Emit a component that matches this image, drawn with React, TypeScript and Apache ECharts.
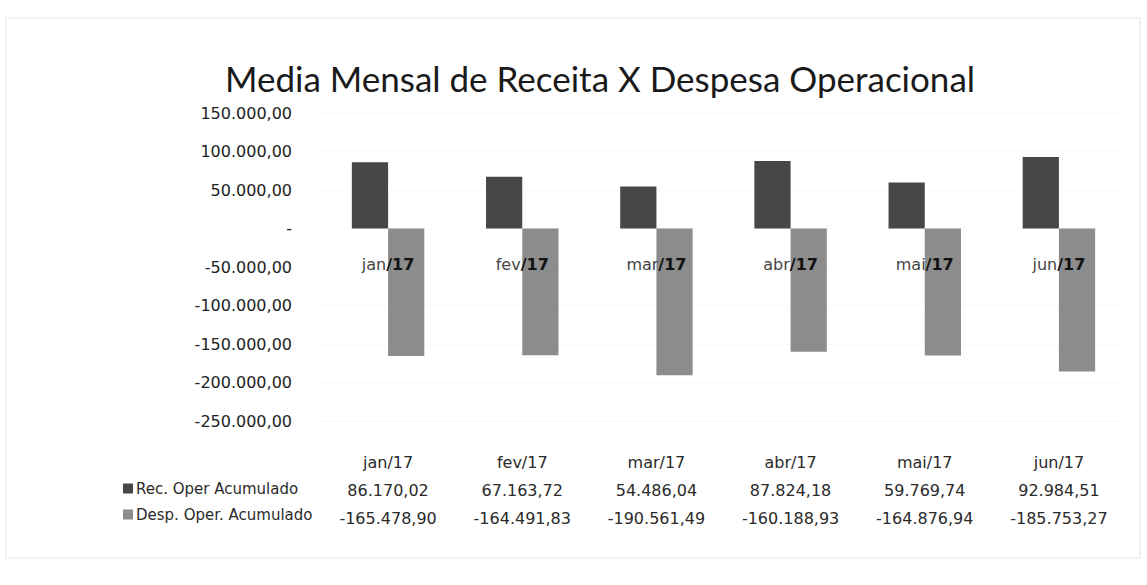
import React, { useEffect, useRef } from "react";
import * as echarts from "echarts";

const months = ["jan/17", "fev/17", "mar/17", "abr/17", "mai/17", "jun/17"];
const recValues = [86170.02, 67163.72, 54486.04, 87824.18, 59769.74, 92984.51];
const despValues = [-165478.9, -164491.83, -190561.49, -160188.93, -164876.94, -185753.27];
const seriesNames = ["Rec. Oper Acumulado", "Desp. Oper. Acumulado"];
const titleText = "Media Mensal de Receita X Despesa Operacional";

function fmt(v: number): string {
  const neg = v < 0;
  const abs = Math.abs(v);
  const fixed = abs.toFixed(2);
  const [intPart, dec] = fixed.split(".");
  const withDots = intPart.replace(/\B(?=(\d{3})+(?!\d))/g, ".");
  return (neg ? "-" : "") + withDots + "," + dec;
}

const FONT = "DejaVu Sans";

export default function App() {
  const ref = useRef<HTMLDivElement>(null);
  useEffect(() => {
    if (!ref.current) return;
    const chart = echarts.init(ref.current, undefined, { renderer: "svg" });
    const tableAxis = (offset: number, formatter: (v: string, i: number) => string) => ({
      type: "category",
      data: months,
      position: "bottom",
      offset,
      axisLine: { show: false, onZero: false },
      axisTick: { show: false },
      splitLine: { show: false },
      axisLabel: {
        margin: 0,
        interval: 0,
        verticalAlign: "top",
        fontFamily: FONT,
        fontSize: 16,
        color: "#2a2a2a",
        formatter,
      },
    });
    chart.setOption({
      animation: false,
      backgroundColor: "#ffffff",
      title: {
        text: titleText,
        left: 595,
        textAlign: "center",
        top: 55,
        textStyle: { fontFamily: "Lato", fontWeight: "normal", fontSize: 35, color: "#1a1a1a" },
      },
      graphic: [
        {
          type: "rect",
          shape: { x: 6, y: 18, width: 1134, height: 540 },
          style: { fill: "none", stroke: "#e6e6e6", lineWidth: 1 },
          silent: true,
        },
      ],
      legend: {
        orient: "vertical",
        left: 118,
        top: 476,
        itemGap: 11,
        itemWidth: 10,
        itemHeight: 10,
        icon: "rect",
        textStyle: { fontFamily: FONT, fontSize: 15, color: "#2a2a2a", padding: [0, 0, 0, -2] },
        data: seriesNames,
      },
      grid: { left: 321, right: 21, top: 113, bottom: 164 },
      xAxis: [
        tableAxis(33, (v: string) => v),
        tableAxis(61, (_v: string, i: number) => fmt(recValues[i])),
        tableAxis(89, (_v: string, i: number) => fmt(despValues[i])),
      ],
      yAxis: {
        type: "value",
        min: -250000,
        max: 150000,
        interval: 50000,
        axisLine: { show: false },
        axisTick: { show: false },
        splitLine: { show: true, lineStyle: { color: "#f2f2f2", type: "dotted" } },
        axisLabel: {
          margin: 29,
          fontFamily: FONT,
          fontSize: 16,
          color: "#222",
          formatter: (v: number) => (v === 0 ? "-" : fmt(v)),
        },
      },
      series: [
        {
          name: seriesNames[0],
          type: "bar",
          data: recValues,
          barGap: "0%",
          barCategoryGap: "46%",
          itemStyle: { color: "#474747" },
        },
        {
          name: seriesNames[1],
          type: "bar",
          data: despValues,
          itemStyle: { color: "#8c8c8c" },
        },
        {
          name: "categoryLabels",
          type: "scatter",
          z: 10,
          symbolSize: 2,
          itemStyle: { color: "rgba(255,255,255,0)" },
          silent: true,
          data: months.map((m) => [m, 0]),
          label: {
            show: true,
            position: "bottom",
            distance: 27,
            opacity: 1,
            formatter: (p: any) => {
              const [m, y] = String(p.value[0]).split("/");
              return "{a|" + m + "}{b|/" + y + "}";
            },
            rich: {
              a: { fontFamily: FONT, fontSize: 16, color: "#444" },
              b: { fontFamily: FONT, fontSize: 16, color: "#111", fontWeight: "bold" },
            },
          },
        },
      ],
    });
    return () => chart.dispose();
  }, []);
  return (
    <div
      ref={ref}
      style={{ position: "fixed", left: 0, top: 0, width: 1147, height: 585 }}
    />
  );
}
